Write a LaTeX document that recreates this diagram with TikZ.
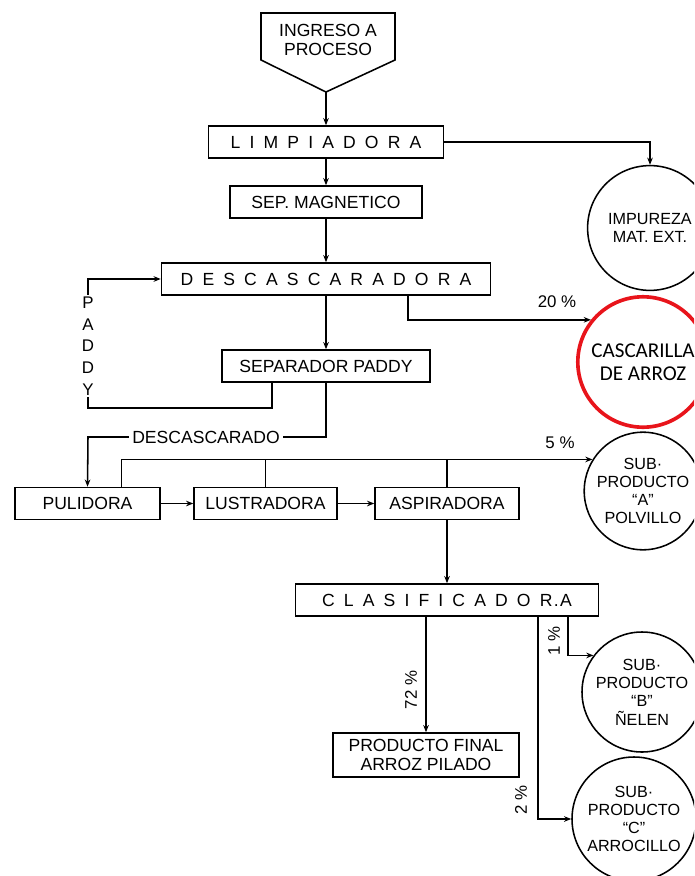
\documentclass[tikz,border=0pt]{standalone}
\usepackage{fontspec}
\setmainfont{Liberation Sans}
\newfontfamily\spacedfont[LetterSpace=52]{Liberation Sans}
\newfontfamily\notefont{Carlito}
\usepackage{tikz}
\usetikzlibrary{positioning,arrows.meta,calc}
\definecolor{NoteRed}{HTML}{E8141B}

\begin{document}
\begin{tikzpicture}[x=0.25mm, y=-0.25mm,
  every node/.style={font=\fontsize{12.5}{14}\selectfont},
  box/.style={draw, line width=1.1pt, minimum height=8mm, inner sep=2pt, align=center},
  wide/.style={box, font=\fontsize{12.5}{14}\spacedfont},
  outc/.style={draw, circle, line width=1.1pt, minimum size=#1, inner sep=0pt,
               align=center, font=\fontsize{11.5}{13}\selectfont},
  pct/.style={font=\fontsize{12}{14}\selectfont},
  ar/.style={-{Stealth[length=1.8mm,width=1.4mm]}, line width=1.1pt},
  ln/.style={line width=1.1pt},
]
  \clip (0,0) rectangle (694,876);

  % ENTRADA
  \draw[ln] (261,13) -- (395,13) -- (395,60) -- (326,92) -- (261,60) -- cycle;
  \node[align=center] (ing) at (328,40) {INGRESO A\\PROCESO};
  \coordinate (ingtip) at (326,92);

  % LINEA PRINCIPAL
  \node[wide, minimum width=58.75mm] (limp) at (326,142) {LIMPIADORA};
  \node[box,  minimum width=48mm]    (sepm) at (326,202) {SEP. MAGNETICO};
  \node[wide, minimum width=82.25mm] (desc) at (326,279) {DESCASCARADORA};
  \node[box,  minimum width=52mm]    (sepp) at (326,366) {SEPARADOR PADDY};
  \draw[ar] (ingtip) -- (limp);
  \foreach \a/\b in {limp/sepm,sepm/desc,desc/sepp}
    \draw[ar] (\a) -- (\b);

  % SALIDAS
  \node[outc=31.2mm] (imp) at (650,228) {IMPUREZA\\MAT. EXT.};
  \node[outc=32.6mm, draw=NoteRed, line width=2.6pt,
        font=\fontsize{15}{16}\notefont] (casc) at (643,362) {CASCARILLA\\DE ARROZ};
  \draw[ar] (limp.east) -| (imp.north);
  \draw[ar] ($(desc.south)+(82,0)$) |- (casc.141);
  \node[pct] (p20) at (557,302) {20 \%};

  % PADDY
  \coordinate (pk) at (88,408);
  \draw[ar] ($(sepp.south)+(-54,0)$) |- (pk) |- (desc.west);
  \node[fill=white, align=center, inner sep=1pt,
        font=\fontsize{12}{15.5}\selectfont] (paddy) at (88,346) {P\\A\\D\\D\\Y};

  % PULIDO
  \node[box, minimum width=36.25mm] (pul) at (87.5,503.5) {PULIDORA};
  \node[box, minimum width=35.75mm] (lus) at (265.5,503.5) {LUSTRADORA};
  \node[box, minimum width=36mm]    (asp) at (447,503.5) {ASPIRADORA};
  \foreach \a/\b in {pul/lus,lus/asp}
    \draw[ar] (\a) -- (\b);
  \coordinate (dk) at (88,437);
  \draw[ar] (sepp.south) |- (dk) -- (pul.north);
  \node[fill=white, inner sep=2pt] (dlab) at (206,437) {DESCASCARADO};

  \node[outc=29.4mm] (subA) at (643,491) {SUB·\\PRODUCTO\\“A”\\POLVILLO};
  \draw[ar] ($(pul.north)+(34,0)$) |- (subA.148);
  \draw[ln] (lus.north) -- (lus.north |- subA.148);
  \draw[ln] (asp.north) -- (asp.north |- subA.148);
  \node[pct] (p5) at (560,443) {5 \%};

  % CLASIFICACION
  \node[wide, minimum width=75.75mm] (clas) at (447,600)
    {CLASIFICADOR{\addfontfeature{LetterSpace=0}\kern1pt.\kern1pt A}};
  \node[box, minimum width=46.5mm, minimum height=11mm] (final) at (426,755)
    {PRODUCTO FINAL\\ARROZ PILADO};
  \draw[ar] (asp) -- (clas);
  \draw[ar] (final.north |- clas.south) -- (final.north);
  \node[pct, rotate=90] (p72) at (411,690) {72 \%};

  \node[outc=30mm] (subB) at (642,692) {SUB·\\PRODUCTO\\“B”\\ÑELEN};
  \node[outc=31mm] (subC) at (634,819) {SUB·\\PRODUCTO\\“C”\\ARROCILLO};
  \draw[ar] ($(clas.south)+(121,0)$) |- (subB.143);
  \draw[ar] ($(clas.south)+(91,0)$) |- (subC.west);
  \node[pct, rotate=90] (p1) at (554,641) {1 \%};
  \node[pct, rotate=90] (p2) at (521,800) {2 \%};
\end{tikzpicture}
\end{document}
